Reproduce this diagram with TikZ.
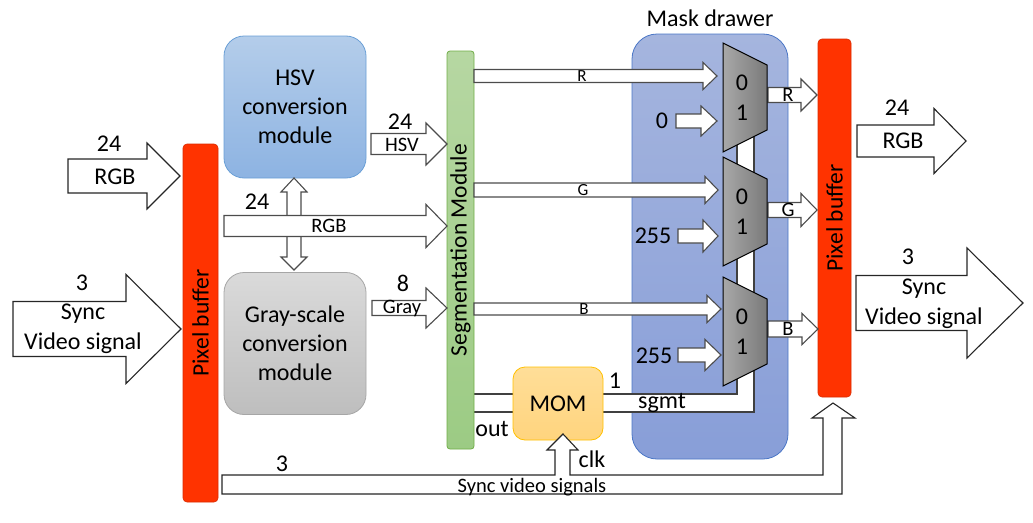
\documentclass[tikz,border=0pt]{standalone}
\usepackage{fontspec}
\setmainfont{Carlito}

\definecolor{bufred}{HTML}{FF3300}
\definecolor{hsvtop}{HTML}{B4CDEA}
\definecolor{hsvbot}{HTML}{8DB3E2}
\definecolor{hsvline}{HTML}{6A9FD6}
\definecolor{graytop}{HTML}{DADADA}
\definecolor{graybot}{HTML}{BEBEBE}
\definecolor{grayline}{HTML}{A6A6A6}
\definecolor{segtop}{HTML}{B6D7A2}
\definecolor{segbot}{HTML}{9CCB84}
\definecolor{segline}{HTML}{70AD47}
\definecolor{masktop}{HTML}{A5B5DE}
\definecolor{maskbot}{HTML}{889ED8}
\definecolor{maskline}{HTML}{4A76C6}
\definecolor{momtop}{HTML}{FFDE98}
\definecolor{mombot}{HTML}{FFD47E}
\definecolor{momline}{HTML}{FFC000}
\definecolor{muxleft}{HTML}{A8A8A8}
\definecolor{muxright}{HTML}{7A7A7A}

% block arrow: [style]{tail x}{tip x}{y}{half body}{half head}{head length}
\newcommand{\busarrow}[7][]{%
  \draw[blockarrow,#1] (#2,#4-#5) -- (#3-#7,#4-#5) -- (#3-#7,#4-#6) -- (#3,#4)
    -- (#3-#7,#4+#6) -- (#3-#7,#4+#5) -- (#2,#4+#5) -- cycle;}

\begin{document}
\begin{tikzpicture}
  [x=1pt,y=-1pt,
   txt/.style={inner sep=0pt,font=\fontsize{24}{29}\selectfont},
   small/.style={inner sep=0pt,font=\fontsize{20.5}{23}\selectfont},
   tiny/.style={inner sep=0pt,font=\fontsize{17}{19}\selectfont},
   module/.style={draw,rounded corners=20pt,line width=0.8pt,align=center,
     minimum width=142pt,minimum height=142pt,font=\fontsize{24}{29}\selectfont},
   buffer/.style={fill=bufred,draw=bufred!85!black,line width=0.6pt,rounded corners=4pt,
     rotate=90,minimum width=358pt,inner sep=0pt,font=\fontsize{23.5}{26}\selectfont},
   blockarrow/.style={draw=black!70,fill=white,line width=1.1pt},
   bigarrow/.style={draw=black!85},
   mux/.style={draw=black,line width=1pt,left color=muxleft,right color=muxright}]

  \useasboundingbox (0,0) rectangle (1033,522);

  % mask drawer
  \node[draw=maskline,line width=0.8pt,rounded corners=25pt,top color=masktop,bottom color=maskbot,
    minimum width=156pt,minimum height=425pt] (mask) at (710,246.5) {};
  \node[txt] (masklbl) at (710,18) {Mask drawer};

  % sgmt select bus
  \fill[white] (474,394) -- (737,394) -- (737,135) -- (754,135) -- (754,412) -- (474,412) -- cycle;
  \draw[black!75,line width=1.1pt] (474,394) -- (737,394) -- (737,135);
  \draw[black!75,line width=1.1pt] (474,412) -- (754,412) -- (754,135);

  % modules
  \node[draw=segline,top color=segtop,bottom color=segbot,line width=0.8pt,rounded corners=3pt,rotate=90,
    minimum width=398pt,minimum height=27pt,inner sep=0pt,font=\fontsize{23.5}{26}\selectfont]
    (seg) at (460.5,250) {Segmentation Module};
  \node[module,draw=hsvline,top color=hsvtop,bottom color=hsvbot] (hsv) at (295,107) {HSV\\conversion\\module};
  \node[module,draw=grayline,top color=graytop,bottom color=graybot] (gray) at (295,343.5) {Gray-scale\\conversion\\module};
  \node[buffer,minimum height=35pt] (pbin) at (200.5,323) {Pixel buffer};
  \node[buffer,minimum height=33pt] (pbout) at (834.5,218) {Pixel buffer};

  % inputs and outputs
  \busarrow[bigarrow]{68}{180}{176}{17}{33}{33}
  \busarrow[bigarrow]{13}{181}{329}{27.5}{54.5}{55}
  \busarrow[bigarrow]{857}{966}{141}{16}{32.5}{32}
  \busarrow[bigarrow]{856}{1023}{303}{27.5}{55}{56}

  % RGB to the conversion modules
  \draw[blockarrow] (287,192) -- (281,192) -- (294,178) -- (307,192) -- (301,192) -- (301,257)
    -- (307,257) -- (294,270) -- (281,257) -- (287,257) -- cycle;
  \busarrow{224}{447}{226}{10.5}{21.5}{21}
  \busarrow{371}{447}{144}{10.5}{21}{21}
  \busarrow{372}{447}{308}{7.5}{20}{21}

  % R G B and constants to the muxes
  \busarrow{474}{717}{76}{6.5}{13.5}{14}
  \busarrow{676}{717}{121}{7}{15}{16}
  \busarrow{474}{718}{190}{7}{13.5}{13}
  \busarrow{678}{718}{236}{7}{16}{15}
  \busarrow{474}{721}{309}{6}{13.5}{14}
  \busarrow{678}{721}{355}{7}{15.5}{16}

  % mux outputs
  \busarrow{768}{817}{95}{7.5}{16}{16}
  \busarrow{768}{817}{210}{7.5}{16.5}{16}
  \busarrow{768}{818}{329}{8}{15.5}{16}

  % MOM and sync video bus
  \node[draw=momline,line width=0.8pt,top color=momtop,bottom color=mombot,rounded corners=12pt,
    minimum width=90pt,minimum height=73pt,font=\fontsize{24}{26}\selectfont] (mom) at (558,403.5) {MOM};
  \draw[blockarrow,draw=black!85] (222,475) -- (555,475) -- (555,450) -- (547,450) -- (563,434)
    -- (578,450) -- (570,450) -- (570,475) -- (823,475) -- (823,418) -- (812,418) -- (833,403)
    -- (855,418) -- (842,418) -- (842,494) -- (222,494) -- cycle;

  % muxes
  \foreach \t/\n in {43/1,157/2,277/3}{
    \draw[mux] (723,\t) -- (767,\t+22) -- (767,\t+87) -- (723,\t+109) -- cycle;
    \node[txt] (zero\n) at (742,\t+40) {0};
    \node[txt] (one\n) at (742,\t+70) {1};
  }

  % labels
  \node[txt] (l1) at (109,144) {24};
  \node[txt] (l2) at (115,177) {RGB};
  \node[txt] (l3) at (82,283) {3};
  \node[txt] (l4) at (83,314) {Sync};
  \node[txt] (l5) at (83,343) {Video signal};
  \node[txt] (l6) at (897,108) {24};
  \node[txt] (l7) at (903,141) {RGB};
  \node[txt] (l8) at (908,257) {3};
  \node[txt] (l9) at (924,289) {Sync};
  \node[txt] (l10) at (924,318) {Video signal};
  \node[txt] (l11) at (400,122) {24};
  \node[small] (l12) at (402,145) {HSV};
  \node[txt] (l13) at (257,202) {24};
  \node[small] (l14) at (329,226) {RGB};
  \node[txt] (l15) at (403,283) {8};
  \node[small] (l16) at (402,308) {Gray};
  \node[tiny] (l17) at (582,76) {R};
  \node[tiny] (l18) at (583,190) {G};
  \node[tiny] (l19) at (584,309) {B};
  \node[txt] (l20) at (662,121) {0};
  \node[txt] (l21) at (653,236) {255};
  \node[txt] (l22) at (654,356) {255};
  \node[small] (l23) at (788,95) {R};
  \node[small] (l24) at (788,210) {G};
  \node[small] (l25) at (788,329) {B};
  \node[txt] (l26) at (615,381) {1};
  \node[txt] (l27) at (662,403) {sgmt};
  \node[txt] (l28) at (492,429) {out};
  \node[txt] (l29) at (592,459) {clk};
  \node[txt] (l30) at (282,464) {3};
  \node[small] (l31) at (532,487) {Sync video signals};
\end{tikzpicture}
\end{document}
